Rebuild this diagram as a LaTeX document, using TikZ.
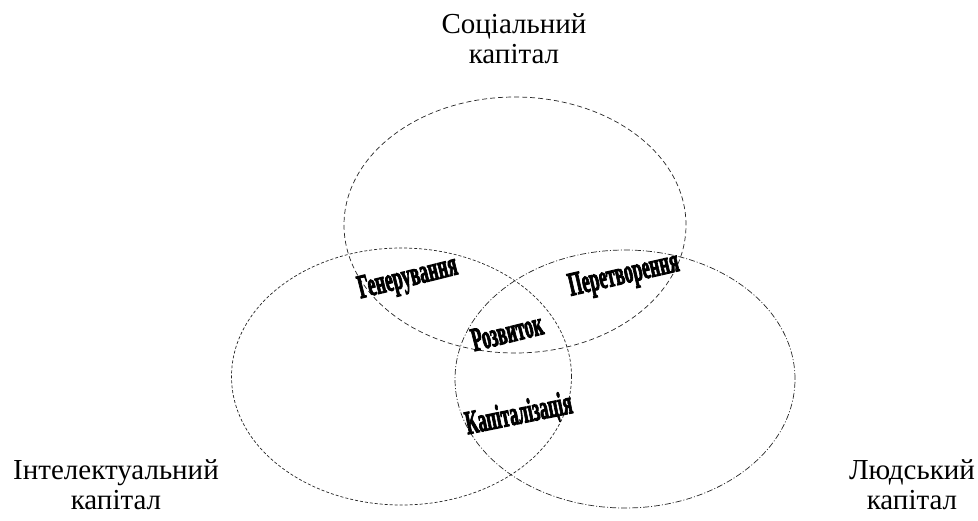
\documentclass[tikz,border=0pt]{standalone}
\usepackage{fontspec}
\setmainfont{Liberation Serif}
\newfontfamily\artfont[FakeBold=3.5]{Liberation Serif Bold}
\usetikzlibrary{shapes.geometric}
\tikzset{
  capring/.style={ellipse, draw=black!85, line width=0.7pt, inner sep=0pt},
  soclinestyle/.style={dash pattern=on 5pt off 3pt},
  intlinestyle/.style={dash pattern=on 3pt off 2pt},
  humlinestyle/.style={dash pattern=on 6pt off 2pt on 1pt off 2pt},
  caplabel/.style={align=center, font=\fontsize{29}{30}\selectfont, inner sep=0pt},
  artword/.style={font=\artfont\fontsize{18}{18}\selectfont, inner sep=0pt}
}
\newcommand{\artw}[1]{\scalebox{0.97}[1.85]{#1}}
\begin{document}
\begin{tikzpicture}[x=1pt,y=-1pt]
\useasboundingbox (0,0) rectangle (978,520);
\node[capring, soclinestyle, minimum width=342pt, minimum height=256pt] (soc) at (515,225) {};
\node[capring, intlinestyle, minimum width=340pt, minimum height=257pt] (int) at (401.5,376.5) {};
\node[capring, humlinestyle, minimum width=340pt, minimum height=258pt] (hum) at (625,379) {};
\node[caplabel] (socl) at (514,39) {Соціальний\\капітал};
\node[caplabel] (intl) at (116,485) {Інтелектуальний\\капітал};
\node[caplabel] (huml) at (912,485) {Людський\\капітал};
\node[artword, rotate=14] (gen) at (408,279) {\artw{Генерування}};
\node[artword, rotate=13] (per) at (624,276) {\artw{Перетворення}};
\node[artword, rotate=14] (roz) at (507,332) {\artw{Розвиток}};
\node[artword, rotate=11.5] (kap) at (519,415) {\artw{Капіталізація}};
\end{tikzpicture}
\end{document}
